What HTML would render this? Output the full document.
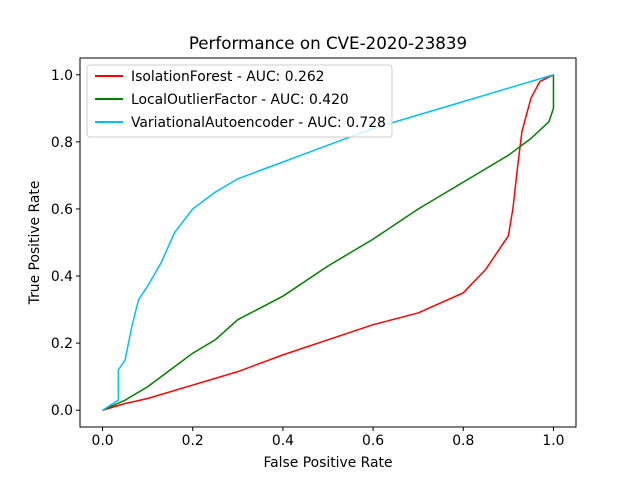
<!DOCTYPE html>
<html><head><meta charset="utf-8"><style>
body{margin:0;background:#fff;}
svg text{font-family:"DejaVu Sans","Liberation Sans",sans-serif;fill:#000;}
</style></head><body>
<svg id="chart" width="640" height="480">
<rect width="640" height="480" fill="#fff"/>
<text x="328" y="49" font-size="16.7" text-anchor="middle">Performance on CVE-2020-23839</text>
<g id="marks"></g>
<g id="axes"></g>
<rect x="80" y="58" width="496" height="369" fill="none" stroke="#000" stroke-width="1"/>
<text x="328" y="467" font-size="13.9" text-anchor="middle">False Positive Rate</text>
<text transform="translate(39,242.5) rotate(-90)" font-size="13.9" text-anchor="middle">True Positive Rate</text>
<g>
<rect x="87" y="65" width="305" height="72" rx="3" fill="#fff" fill-opacity="0.8" stroke="#ccc"/>
<g id="legend-items"></g>
</g>
</svg>
<script>
const ifX=[0,0.05,0.1,0.2,0.3,0.4,0.5,0.6,0.7,0.8,0.85,0.88,0.9,0.91,0.92,0.93,0.95,0.97,1];
const ifY=[0,0.02,0.035,0.075,0.115,0.165,0.21,0.255,0.29,0.35,0.42,0.48,0.52,0.6,0.72,0.83,0.93,0.98,1];
const lofX=[0,0.05,0.1,0.15,0.2,0.25,0.3,0.4,0.5,0.6,0.7,0.8,0.9,0.95,0.99,1,1];
const lofY=[0,0.03,0.07,0.12,0.17,0.21,0.27,0.34,0.43,0.51,0.6,0.68,0.76,0.81,0.86,0.9,1];
const vaeX=[0,0.035,0.035,0.05,0.065,0.08,0.1,0.13,0.16,0.2,0.25,0.3,0.35,0.4,0.45,0.5,0.6,0.7,0.8,0.9,1];
const vaeY=[0,0.03,0.12,0.15,0.25,0.33,0.37,0.44,0.53,0.6,0.65,0.69,0.715,0.74,0.765,0.79,0.84,0.88,0.92,0.96,1];
const seriesNames=["IsolationForest - AUC: 0.262","LocalOutlierFactor - AUC: 0.420","VariationalAutoencoder - AUC: 0.728"];
const ticks=[0,0.2,0.4,0.6,0.8,1.0];
const tickLabels=["0.0","0.2","0.4","0.6","0.8","1.0"];
const NS="http://www.w3.org/2000/svg";
const L=80,R=576,T=58,B=427;
const sx=v=>L+(v+0.05)/1.1*(R-L);
const sy=v=>B-(v+0.05)/1.1*(B-T);
const marks=document.getElementById('marks');
const colors=["#ff0000","#008000","#00bfff"];
const data=[[ifX,ifY],[lofX,lofY],[vaeX,vaeY]];
const names=['isolation-forest-line','lof-line','vae-line'];
data.forEach((d,i)=>{
  const p=document.createElementNS(NS,'polyline');
  p.setAttribute('points',d[0].map((x,j)=>sx(x)+','+sy(d[1][j])).join(' '));
  p.setAttribute('fill','none');p.setAttribute('stroke',colors[i]);p.setAttribute('stroke-width','1.5');
  
  
  marks.appendChild(p);
});
const axes=document.getElementById('axes');
ticks.forEach((t,i)=>{
  const lx=document.createElementNS(NS,'line');
  lx.setAttribute('x1',sx(t));lx.setAttribute('x2',sx(t));lx.setAttribute('y1',B);lx.setAttribute('y2',B+4);lx.setAttribute('stroke','#000');
  
  
  axes.appendChild(lx);
  const tx=document.createElementNS(NS,'text');
  tx.setAttribute('x',sx(t));tx.setAttribute('y',B+18);tx.setAttribute('font-size','13.9');tx.setAttribute('text-anchor','middle');
  tx.textContent=tickLabels[i];
  
  
  axes.appendChild(tx);
  const ly=document.createElementNS(NS,'line');
  ly.setAttribute('x1',L-4);ly.setAttribute('x2',L);ly.setAttribute('y1',sy(t));ly.setAttribute('y2',sy(t));ly.setAttribute('stroke','#000');
  
  
  axes.appendChild(ly);
  const ty=document.createElementNS(NS,'text');
  ty.setAttribute('x',L-7);ty.setAttribute('y',sy(t)+5);ty.setAttribute('font-size','13.9');ty.setAttribute('text-anchor','end');
  ty.textContent=tickLabels[i];
  
  
  axes.appendChild(ty);
});
const leg=document.getElementById('legend-items');
seriesNames.forEach((n,i)=>{
  const y=76+i*23;
  const l=document.createElementNS(NS,'line');
  l.setAttribute('x1',95);l.setAttribute('x2',123);l.setAttribute('y1',y);l.setAttribute('y2',y);
  l.setAttribute('stroke',colors[i]);l.setAttribute('stroke-width','2');
  
  
  leg.appendChild(l);
  const t=document.createElementNS(NS,'text');
  t.setAttribute('x',131);t.setAttribute('y',y+5);t.setAttribute('font-size','13.9');
  t.textContent=n;
  
  
  leg.appendChild(t);
});
</script>
</body></html>
